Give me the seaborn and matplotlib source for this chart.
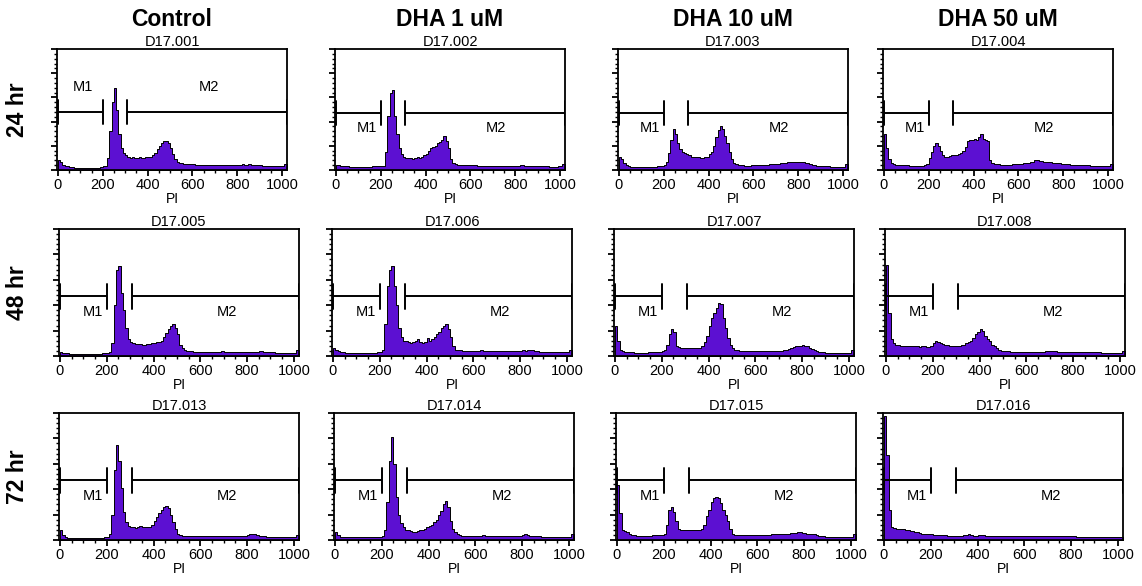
import numpy as np
import pandas as pd
import matplotlib
matplotlib.use("Agg")
import matplotlib.pyplot as plt
import seaborn as sns
from matplotlib.ticker import MultipleLocator

# ---------------- data ----------------
columns = ["Control", "DHA 1 uM", "DHA 10 uM", "DHA 50 uM"]
rows = ["24 hr", "48 hr", "72 hr"]
sample_ids = [["D17.001", "D17.002", "D17.003", "D17.004"],
              ["D17.005", "D17.006", "D17.007", "D17.008"],
              ["D17.013", "D17.014", "D17.015", "D17.016"]]
x_label = "PI"
x_ticks = [0, 200, 400, 600, 800, 1000]
gate_m1 = [0, 200]
gate_m2 = [310, 1020]
gate_names = ["M1", "M2"]
bin_width = 10
pi_max = 1020

# counts per 10-unit PI bin (0-10, 10-20, ... 1010-1020), % of panel height
h24_control = [8, 7, 4, 3, 3, 2.5, 2.5, 2, 2, 2,
               2, 2, 2, 2, 2, 2, 2, 2, 2, 2.5,
               3, 3, 10, 32, 56, 68, 50, 30, 18, 14,
               12, 11, 10, 11, 10, 10, 11, 10, 10, 11,
               11, 11, 12, 14, 17, 20, 22, 24, 24, 22,
               18, 13, 9, 7, 6, 5.5, 5, 5, 5, 5,
               5, 4.5, 4.5, 4.5, 4.5, 4.5, 4, 4, 4, 4,
               4, 4, 4, 4, 4, 4, 4, 4, 4, 4,
               4, 4, 5, 4, 4, 5, 4, 4, 4, 4,
               4, 3.5, 3.5, 3, 3, 3, 3, 3, 3, 3,
               3, 5]
h24_dha1 = [4, 4, 3, 3, 3, 3, 2.5, 2.5, 2.5, 2.5,
            2.5, 2.5, 2.5, 2.5, 2.5, 2.5, 3, 3, 3, 3,
            3, 3, 15, 45, 64, 66, 45, 30, 18, 13,
            11, 10, 10, 10, 9, 10, 11, 10, 11, 12,
            13, 16, 18, 19, 20, 22, 23, 25, 28, 24,
            18, 9, 6, 5, 4.5, 4, 4, 4, 4, 4,
            4, 4, 4, 3.5, 3.5, 3.5, 3.5, 3.5, 3.5, 3.5,
            3.5, 3.5, 3.5, 3.5, 3.5, 3.5, 3.5, 3.5, 3.5, 3.5,
            3.5, 3.5, 4, 4, 3.5, 3.5, 3.5, 3, 3, 3,
            3, 3, 3, 3, 3, 2.5, 2.5, 2.5, 2.5, 3,
            3, 5]
h24_dha10 = [11, 9, 6, 4, 3, 2.5, 2.5, 2.5, 2.5, 2.5,
             2.5, 2.5, 2.5, 2.5, 2.5, 2.5, 2.5, 3, 3, 3,
             4, 7, 14, 25, 34, 30, 22, 17, 15, 14,
             13, 12, 11, 11, 10.5, 10.5, 10, 10, 10.5, 11,
             13, 15, 20, 27, 33, 36, 34, 28, 22, 15,
             9, 6, 5, 4.5, 4, 4, 3.5, 3.5, 3.5, 4,
             4, 4, 4, 4, 4, 4.5, 4.5, 5, 5, 5,
             5, 5, 5.5, 6, 6, 6.5, 6.5, 7, 7, 7,
             7, 7, 6.5, 6, 5.5, 5, 4.5, 4, 3.5, 3,
             3, 3, 3, 3, 2.5, 2.5, 2.5, 2.5, 2.5, 2.5,
             2.5, 5]
h24_dha50 = [30, 18, 9, 6, 5, 4.5, 4, 4, 4, 4,
             4, 3.5, 3.5, 3.5, 3.5, 3.5, 3.5, 3.5, 4, 5,
             10, 15, 20, 22, 20, 16, 12, 11, 11, 11.5,
             12, 12, 12.5, 13, 14, 16, 19, 24, 25, 25,
             26, 25, 27, 30, 26, 25, 24, 8, 6, 5,
             5, 5, 4.5, 4.5, 4.5, 4.5, 4.5, 5, 5, 5,
             5, 5, 5.5, 5.5, 6, 6.5, 7, 8, 8, 7.5,
             7.5, 7, 7, 6.5, 6.5, 6, 6, 5.5, 5.5, 5,
             5, 5, 5, 4.5, 4.5, 4.5, 4, 4, 4, 4,
             4, 4, 3.5, 3.5, 3.5, 3, 3, 3, 3, 3,
             3, 5]
h48_control = [3, 2.5, 2, 2, 1.5, 1.5, 1.5, 1.5, 1.5, 1.5,
               1.5, 1.5, 1.5, 1.5, 1.5, 1.5, 1.5, 1.5, 2, 2,
               2, 3, 10, 40, 68, 71, 50, 36, 22, 13,
               11, 10, 9.5, 9.5, 9.5, 9, 9, 9.5, 9.5, 10,
               10.5, 11, 11, 12, 15, 18, 21, 24, 25, 22,
               17, 9, 6, 5, 4, 4, 4, 3.5, 3.5, 3.5,
               3.5, 3.5, 3.5, 3, 3, 3, 3, 3, 3, 4,
               3, 3, 3, 3, 3, 3, 3, 3, 3, 3,
               3, 3, 3, 3.5, 3.5, 4, 4, 3.5, 3, 3,
               3, 3, 2.5, 2.5, 2.5, 2.5, 2, 2, 2, 2,
               2, 5]
h48_dha1 = [6, 5, 4, 3, 3, 2.5, 2.5, 2.5, 2.5, 2.5,
            2.5, 2.5, 2.5, 2.5, 2.5, 2.5, 2.5, 2.5, 2.5, 3,
            3, 5, 25, 55, 68, 71, 55, 40, 22, 15,
            12, 12, 11, 10, 11, 12, 13, 11, 10, 11,
            14, 12, 13, 15, 17, 19, 22, 24, 25, 21,
            15, 8, 5, 4.5, 4.5, 4, 4, 4, 4, 4,
            4, 4, 4, 4.5, 4, 4, 4, 4, 4, 4,
            4, 4, 4, 4, 4, 4, 4, 4, 4, 4,
            4, 4.5, 4, 4.5, 5, 4.5, 4, 4, 3.5, 3.5,
            3.5, 3, 3, 3, 3, 3, 3, 3, 3, 3,
            3, 5]
h48_dha10 = [24, 12, 5, 4, 3, 3, 3, 3, 2.5, 2.5,
             2.5, 2.5, 2.5, 2.5, 3, 3, 3, 3, 3, 3.5,
             4, 5, 9, 17, 21, 19, 8, 7, 6.5, 6.5,
             6.5, 6.5, 6.5, 6.5, 6.5, 6.5, 6.5, 8, 11, 16,
             24, 30, 34, 38, 42, 41, 30, 22, 14, 9,
             6, 5, 4.5, 4, 4, 4, 4, 4, 4, 4,
             4, 4, 4, 4, 4, 4, 4, 4, 4, 4,
             4, 4, 4.5, 5, 5.5, 6, 7, 7.5, 8, 8,
             8.5, 8, 7.5, 6.5, 5.5, 5, 4, 3.5, 3, 3,
             2.5, 2.5, 2.5, 2.5, 2.5, 2.5, 2.5, 2.5, 2.5, 2.5,
             2.5, 5]
h48_dha50 = [72, 34, 13, 10, 9, 8.5, 8, 8, 8, 8,
             8, 7.5, 7.5, 7.5, 7, 7.5, 7.5, 7, 7, 8,
             10, 12, 11, 10, 9.5, 9, 8.5, 8, 8, 8,
             8, 8, 8.5, 9, 10, 11, 12, 14, 17, 19,
             21, 20, 16, 13, 12, 9, 8, 6, 4.5, 4,
             4, 4, 4, 3.5, 3.5, 3.5, 3.5, 3.5, 3.5, 3.5,
             3.5, 3.5, 3.5, 3.5, 3.5, 3.5, 3.5, 3.5, 4, 4,
             4, 4, 4, 3.5, 3.5, 3.5, 3.5, 3.5, 3.5, 3.5,
             3.5, 3.5, 3.5, 3.5, 3.5, 3.5, 3, 3, 3, 3,
             3, 3, 2.5, 2.5, 2.5, 2.5, 2, 2, 2, 2,
             2, 4]
h72_control = [8, 4, 2, 1.5, 1.5, 1.5, 1.5, 1.5, 1.5, 1.5,
               1.5, 1.5, 1.5, 1.5, 1.5, 1.5, 1.5, 1.5, 1.5, 2,
               2.5, 5, 20, 55, 75, 62, 41, 22, 14, 11,
               10, 10, 9.5, 10, 11, 10, 10, 10, 10.5, 12,
               15, 18, 21, 24, 26, 27, 25, 20, 14, 9,
               5, 4, 3.5, 3.5, 3.5, 3.5, 3, 3, 3, 3,
               3, 3, 3, 3, 3, 3, 3, 3, 3, 3,
               3, 3, 3, 3, 3, 3, 3, 3, 3.5, 3.5,
               4, 4.5, 5, 4.5, 4, 3.5, 3, 3, 2.5, 2.5,
               2, 2, 2, 2, 2, 2, 2, 2, 2, 2,
               2, 4]
h72_dha1 = [6, 4, 2.5, 2, 2, 2, 2, 2, 2, 2,
            2, 2, 2, 2, 2, 2, 2, 2, 2, 2.5,
            3, 8, 30, 62, 81, 60, 34, 20, 13, 10,
            8, 7.5, 7, 6.5, 6.5, 7, 7.5, 8, 9, 10,
            11, 12, 14, 16, 20, 23, 28, 31, 26, 15,
            9, 6, 4.5, 4, 3.5, 3.5, 3.5, 3.5, 3.5, 3.5,
            3.5, 3.5, 3.5, 4, 3.5, 3, 3, 3, 3, 3,
            3, 3, 3, 3, 3, 3, 3, 3, 3, 3,
            4, 4.5, 4, 3.5, 3, 3, 3, 3, 2.5, 2.5,
            2.5, 2.5, 2.5, 2.5, 2.5, 2.5, 2.5, 2.5, 2.5, 2.5,
            2.5, 5]
h72_dha10 = [43, 21, 8, 7, 6, 5, 4, 4, 3.5, 3.5,
             3.5, 3.5, 3.5, 3.5, 3.5, 4, 4, 4, 4, 4,
             5, 12, 24, 26, 22, 15, 9, 7.5, 7.5, 7.5,
             7.5, 7.5, 7.5, 7.5, 8, 8, 9, 12, 19, 24,
             30, 33, 34, 33, 29, 24, 20, 15, 9, 5,
             4, 4, 4, 4, 4, 4, 4, 4, 4, 4,
             4, 4, 4, 4, 4, 4, 4.5, 4.5, 4.5, 5,
             5, 5, 5, 5, 5.5, 5.5, 5.5, 6, 6, 5.5,
             5.5, 5, 5, 4.5, 4.5, 4, 3.5, 3, 3, 2.5,
             2.5, 2.5, 2, 2, 2, 2, 2, 2, 2, 2,
             2, 5]
h72_dha50 = [98, 67, 24, 10.5, 9.5, 9, 9, 8.5, 8.5, 8,
             7.5, 7, 7, 6.5, 6, 5.5, 5, 5, 4.5, 4.5,
             4.5, 4, 4, 4, 4, 4, 4, 3.5, 3.5, 3.5,
             3.5, 3.5, 3.5, 3.5, 4, 4, 4.5, 4, 3.5, 3.5,
             4, 4, 4, 3.5, 3, 3, 3, 3, 3, 3,
             3, 3, 3, 3, 3, 3, 3, 3, 3, 3,
             3, 3, 3, 3, 3, 3, 3, 3, 3, 3,
             3, 3, 3, 3, 3, 3, 3, 3, 3, 3,
             3, 3, 2.5, 2.5, 2.5, 2, 2, 2, 2, 2,
             2, 2, 2, 2, 2, 2, 2, 2, 2, 2,
             2, 2.5]

hists = [[h24_control, h24_dha1, h24_dha10, h24_dha50],
         [h48_control, h48_dha1, h48_dha10, h48_dha50],
         [h72_control, h72_dha1, h72_dha10, h72_dha50]]

# ---------------- style / layout ----------------
sns.set_theme(style="ticks")
plt.rcParams["font.family"] = ["Liberation Sans", "DejaVu Sans"]
plt.rcParams["text.color"] = "black"
plt.rcParams["axes.labelcolor"] = "black"
plt.rcParams["xtick.color"] = "black"
plt.rcParams["ytick.color"] = "black"
plt.rcParams["xtick.labelcolor"] = "black"

W, H = 1142, 586
fig = plt.figure(figsize=(W / 100, H / 100), dpi=100)

PURPLE = "#5c10d2"
row_top = [49, 229, 413]
row_bot = [170, 356, 540]
col_left = [[57, 335, 618, 883], [59, 332, 614, 885], [59, 334, 616, 883]]
row_width = [230, 240, 240]

centers = np.arange(bin_width / 2, pi_max, bin_width)

for r in range(3):
    for c in range(4):
        l = col_left[r][c]
        w = row_width[r]
        t, b = row_top[r], row_bot[r]
        ax = fig.add_axes([l / W, 1 - b / H, w / W, (b - t) / H])
        df = pd.DataFrame({x_label: centers, "count": hists[r][c]})
        sns.histplot(data=df, x=x_label, weights="count",
                     binwidth=bin_width, binrange=(0, pi_max),
                     element="step", fill=True, color=PURPLE,
                     edgecolor="black", linewidth=0.7, alpha=1, ax=ax)
        ax.set_xlim(-4, 1022)
        ax.set_ylim(0, 100)
        ax.set_ylabel("")
        ax.set_xlabel(x_label, fontsize=10, labelpad=0, color="black")
        ax.set_title(sample_ids[r][c], fontsize=10.5, pad=2, color="black")
        ax.set_xticks(x_ticks)
        ax.xaxis.set_minor_locator(MultipleLocator(50))
        ax.yaxis.set_major_locator(MultipleLocator(20))
        ax.yaxis.set_minor_locator(MultipleLocator(4))
        ax.tick_params(axis="both", which="major", direction="out", length=4,
                       width=1.3, labelsize=10.5, pad=2, color="black",
                       labelcolor="black")
        ax.tick_params(axis="both", which="minor", direction="out", length=2.5,
                       width=1.0, color="black")
        ax.tick_params(axis="y", labelleft=False)
        for s in ax.spines.values():
            s.set_visible(True)
            s.set_linewidth(1.3)
            s.set_color("black")

        # gate markers
        above = (r == 0 and c == 0)
        gy = 48 if above else 47
        cap = 10
        for (g0, g1) in (gate_m1, gate_m2):
            ax.plot([g0, g1], [gy, gy], color="black", lw=1.4, solid_capstyle="butt")
            ax.plot([g0, g0], [gy - cap, gy + cap], color="black", lw=1.4)
            ax.plot([g1, g1], [gy - cap, gy + cap], color="black", lw=1.4)
        if above:
            ax.text(113, 69, gate_names[0], ha="center", va="center", fontsize=10.5)
            ax.text(675, 69, gate_names[1], ha="center", va="center", fontsize=10.5)
        else:
            ax.text(140, 35, gate_names[0], ha="center", va="center", fontsize=10.5)
            ax.text(712, 35, gate_names[1], ha="center", va="center", fontsize=10.5)

# column headers
for c in range(4):
    xc = (col_left[0][c] + row_width[0] / 2) / W
    fig.text(xc, 1 - 20 / H, columns[c], ha="center", va="center",
             fontsize=16.5, fontweight="bold", color="black")
# row labels
for r in range(3):
    yc = 1 - (row_top[r] + row_bot[r]) / 2 / H
    fig.text(18 / W, yc, rows[r], ha="center", va="center", rotation=90,
             fontsize=16.5, fontweight="bold", color="black")

fig.savefig("out.png", dpi=100, facecolor="white")
